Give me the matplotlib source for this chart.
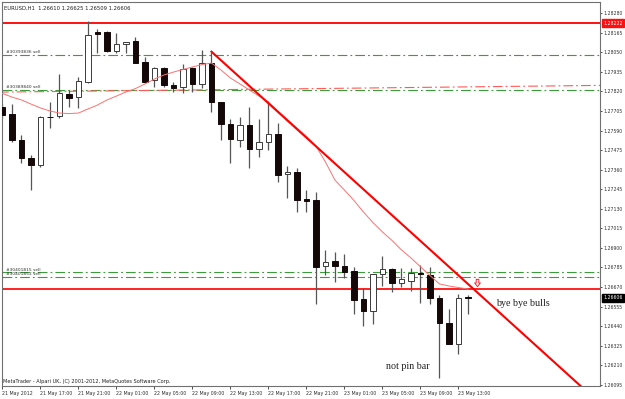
import matplotlib
matplotlib.use('Agg')
import matplotlib.pyplot as plt
from matplotlib.path import Path
from matplotlib.transforms import blended_transform_factory

plt.rcParams['lines.scale_dashes'] = False

# ---------------------------------------------------------------------------
# EURUSD H1 bars, 21 May 13:00 .. 23 May 14:00
# ---------------------------------------------------------------------------
OPENS = [1.27729, 1.27687, 1.27534, 1.27429, 1.27387, 1.27671, 1.27673, 1.27805,
         1.27786, 1.27877, 1.28168, 1.28171, 1.28060, 1.28097, 1.28117, 1.27995,
         1.27887, 1.27956, 1.27858, 1.27848, 1.27956, 1.27862, 1.27989, 1.27756,
         1.27629, 1.27534, 1.27623, 1.27480, 1.27524, 1.27568, 1.27333, 1.27345,
         1.27188, 1.27182, 1.26794, 1.26823, 1.26795, 1.26764, 1.26600, 1.26529,
         1.26745, 1.26774, 1.26692, 1.26708, 1.26751, 1.26741, 1.26604, 1.26457,
         1.26333, 1.26610]
HIGHS = [1.27746, 1.27746, 1.27564, 1.27446, 1.27676, 1.27758, 1.27923, 1.27828,
         1.27907, 1.28236, 1.28185, 1.28177, 1.28162, 1.28112, 1.28138, 1.28021,
         1.27964, 1.27966, 1.27877, 1.27981, 1.27966, 1.28064, 1.28054, 1.27760,
         1.27656, 1.27668, 1.27730, 1.27656, 1.27764, 1.27633, 1.27382, 1.27368,
         1.27240, 1.27230, 1.26888, 1.26876, 1.26864, 1.26789, 1.26666, 1.26747,
         1.26852, 1.26779, 1.26780, 1.26780, 1.26799, 1.26789, 1.26623, 1.26539,
         1.26627, 1.26625]
LOWS = [1.27664, 1.27523, 1.27399, 1.27240, 1.27376, 1.27605, 1.27664, 1.27730,
        1.27721, 1.27868, 1.28044, 1.28054, 1.28044, 1.28044, 1.27985, 1.27868,
        1.27846, 1.27848, 1.27818, 1.27813, 1.27818, 1.27840, 1.27701, 1.27534,
        1.27401, 1.27492, 1.27368, 1.27433, 1.27476, 1.27289, 1.27192, 1.27113,
        1.27113, 1.26568, 1.26741, 1.26701, 1.26726, 1.26511, 1.26443, 1.26453,
        1.26676, 1.26643, 1.26672, 1.26648, 1.26578, 1.26570, 1.26137, 1.26333,
        1.26276, 1.26509]
CLOSES = [1.27681, 1.27534, 1.27429, 1.27387, 1.27670, 1.27669, 1.27808, 1.27780,
          1.27881, 1.28152, 1.28160, 1.28060, 1.28099, 1.28112, 1.27989, 1.27877,
          1.27958, 1.27858, 1.27843, 1.27950, 1.27864, 1.27989, 1.27760, 1.27629,
          1.27539, 1.27623, 1.27480, 1.27524, 1.27568, 1.27329, 1.27346, 1.27182,
          1.27176, 1.26789, 1.26819, 1.26795, 1.26760, 1.26594, 1.26529, 1.26745,
          1.26774, 1.26692, 1.26715, 1.26754, 1.26744, 1.26607, 1.26457, 1.26333,
          1.26607, 1.26606]
MA = [1.27808, 1.27787, 1.27770, 1.27746, 1.27723, 1.27705, 1.27693, 1.27690,
      1.27693, 1.27717, 1.27740, 1.27770, 1.27793, 1.27817, 1.27837, 1.27864,
      1.27893, 1.27917, 1.27934, 1.27949, 1.27964, 1.27978, 1.27987, 1.27946,
      1.27899, 1.27864, 1.27828, 1.27793, 1.27758, 1.27705, 1.27655, 1.27605,
      1.27555, 1.27499, 1.27405, 1.27299, 1.27240, 1.27179, 1.27111, 1.27049,
      1.26994, 1.26944, 1.26888, 1.26841, 1.26789, 1.26738, 1.26688, 1.26676,
      1.26667, 1.26658]

TIME_LABELS = ['21 May 2012', '21 May 17:00', '21 May 21:00', '22 May 01:00',
               '22 May 05:00', '22 May 09:00', '22 May 13:00', '22 May 17:00',
               '22 May 21:00', '23 May 01:00', '23 May 05:00', '23 May 09:00',
               '23 May 13:00']
PRICE_TICKS = [1.26095, 1.26210, 1.26325, 1.26440, 1.26555, 1.26670, 1.26785,
               1.26900, 1.27015, 1.27130, 1.27245, 1.27360, 1.27475, 1.27590,
               1.27705, 1.27820, 1.27935, 1.28050, 1.28165, 1.28280]

# objects on the chart
RESIST_TOP = 1.28222
SUPPORT = 1.26660
ORDERS = [('#30393836 sell', 1.28034), ('#30389840 sell', 1.27828),
          ('#30401815 sell', 1.26757), ('#30401852 sell', 1.26731)]
TREND_X = [22, 62.5]
TREND_Y = [1.28054, 1.26005]
DASH_X = [-0.5, 63.5]
DASH_Y = [1.27816, 1.27856]
ARROW_AT = (49.9, 1.26694)
LAST_PRICE = 1.26606

BULL_EDGE = '#3a3a3a'
BEAR = '#140808'
WICK = '#555555'
GREEN = '#3c9c3c'
DASHDOT = (0, (7, 2.2, 1.3, 2.2))

fig = plt.figure(figsize=(6.25, 3.99), dpi=100)
ax = fig.add_axes([2 / 625, 13 / 399, 598 / 625, 384 / 399])
ax.set_xlim(-0.05, 62.9)
ax.set_ylim(1.26088, 1.28346)

idx = list(range(len(OPENS)))

# horizontal / trend objects
ax.axhline(RESIST_TOP, color='#ff1010', lw=1.4, zorder=1)
ax.axhline(SUPPORT, color='#ff1010', lw=1.3, zorder=1)
trans = blended_transform_factory(ax.transAxes, ax.transData)
for name, lvl in ORDERS:
    ax.axhline(lvl, color=GREEN, lw=0.8, ls=DASHDOT, zorder=1)
    ax.text(0.006, lvl + 0.00004, name, transform=trans, fontsize=3.2,
            color='#303030', va='bottom', ha='left')
ax.plot(DASH_X, DASH_Y, color='#ff5a5a', lw=0.8, ls=DASHDOT, zorder=1)

# candles
for i in idx:
    o, h, l, c = OPENS[i], HIGHS[i], LOWS[i], CLOSES[i]
    ax.vlines(i, l, h, color=WICK, lw=0.9, zorder=2)
    bull = c >= o
    ax.bar(i, max(abs(c - o), 0.000005), bottom=min(o, c), width=0.62,
           color='white' if bull else BEAR,
           edgecolor=BULL_EDGE if bull else BEAR, lw=0.7, zorder=3)

ax.plot(idx, MA, color='#ff7070', lw=0.7, zorder=4)
ax.plot(TREND_X, TREND_Y, color='#ff0000', lw=1.5, zorder=5)

arrow = Path([(-0.25, 0.8), (0.25, 0.8), (0.25, 0.1), (0.55, 0.1), (0, -0.6),
              (-0.55, 0.1), (-0.25, 0.1), (-0.25, 0.8)])
ax.plot(*ARROW_AT, marker=arrow, ms=6, mfc='white', mec='#ff2020', mew=0.7,
        zorder=6)

ax.text(52.0, 1.26576, 'bye bye bulls', family='Liberation Serif',
        fontsize=7.2, color='#202020', va='center', ha='left', zorder=7)
ax.text(40.4, 1.26200, 'not pin bar', family='Liberation Serif',
        fontsize=7.2, color='#202020', va='center', ha='left', zorder=7)

# axes cosmetics
for sp in ax.spines.values():
    sp.set_color('#707070')
    sp.set_linewidth(0.8)
ax.yaxis.tick_right()
ax.set_yticks(PRICE_TICKS)
ax.set_yticklabels([f'{t:.5f}' for t in PRICE_TICKS])
ax.tick_params(axis='y', length=1.5, width=0.6, pad=1, labelsize=3.3,
               colors='#303030')
ax.set_xticks([4 * k for k in range(len(TIME_LABELS))])
ax.set_xticklabels(TIME_LABELS)
ax.tick_params(axis='x', length=2, width=0.6, pad=1.5, labelsize=3.4,
               colors='#303030')
for lbl in ax.get_xticklabels():
    lbl.set_horizontalalignment('left')

# price boxes on the scale
for val, bg in [(RESIST_TOP, '#ff1010'), (LAST_PRICE, '#000000')]:
    ax.annotate(f'{val:.5f}', xy=(1.0, val), xycoords=trans,
                xytext=(2.3, 0), textcoords='offset points',
                fontsize=3.3, color='white', va='center', ha='left',
                bbox=dict(boxstyle='square,pad=0.35', fc=bg, ec=bg),
                annotation_clip=False)

fig.text(4 / 625, 1 - 8 / 399,
         'EURUSD,H1  1.26610 1.26625 1.26509 1.26606',
         fontsize=3.8, color='#202020', va='center', ha='left')
fig.text(3 / 625, 1 - 381 / 399,
         'MetaTrader - Alpari UK, (C) 2001-2012, MetaQuotes Software Corp.',
         fontsize=3.6, color='#202020', va='center', ha='left')

fig.savefig('out.png', dpi=100, facecolor='white')
